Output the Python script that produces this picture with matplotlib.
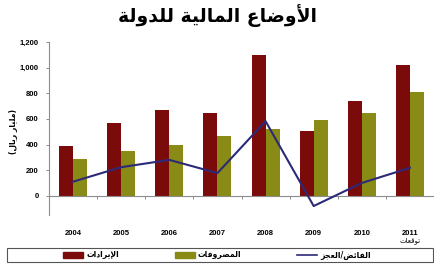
import matplotlib
matplotlib.use("Agg")
import matplotlib.pyplot as plt
from matplotlib.patches import Rectangle, Patch
from matplotlib.lines import Line2D
from matplotlib.ticker import FuncFormatter, FixedLocator

# ---------------- data ----------------
years = ["2004", "2005", "2006", "2007", "2008", "2009", "2010", "2011"]
revenues = [392, 566, 670, 644, 1100, 508, 742, 1022]
expenditures = [285, 348, 397, 467, 519, 592, 644, 807]
balance = [110, 223, 280, 177, 582, -80, 100, 218]
yticks = [0, 200, 400, 600, 800, 1000, 1200]

title_txt = "الأوضاع المالية للدولة"
ylabel_txt = "(مليار ريال)"
rev_txt = "الإيرادات"
exp_txt = "المصروفات"
bal_txt = "الفائض/العجز"
forecast_txt = "توقعات"

# ------------- simple Arabic shaping -------------
FORMS = {  # isolated, final, initial, medial
    'ا': (0xFE8D, 0xFE8E, None, None),
    'أ': (0xFE83, 0xFE84, None, None),
    'إ': (0xFE87, 0xFE88, None, None),
    'ة': (0xFE93, 0xFE94, None, None),
    'د': (0xFEA9, 0xFEAA, None, None),
    'ر': (0xFEAD, 0xFEAE, None, None),
    'ز': (0xFEAF, 0xFEB0, None, None),
    'و': (0xFEED, 0xFEEE, None, None),
    'ت': (0xFE95, 0xFE96, 0xFE97, 0xFE98),
    'ج': (0xFE9D, 0xFE9E, 0xFE9F, 0xFEA0),
    'ص': (0xFEB9, 0xFEBA, 0xFEBB, 0xFEBC),
    'ض': (0xFEBD, 0xFEBE, 0xFEBF, 0xFEC0),
    'ع': (0xFEC9, 0xFECA, 0xFECB, 0xFECC),
    'ف': (0xFED1, 0xFED2, 0xFED3, 0xFED4),
    'ق': (0xFED5, 0xFED6, 0xFED7, 0xFED8),
    'ل': (0xFEDD, 0xFEDE, 0xFEDF, 0xFEE0),
    'م': (0xFEE1, 0xFEE2, 0xFEE3, 0xFEE4),
    'ي': (0xFEF1, 0xFEF2, 0xFEF3, 0xFEF4),
    'ئ': (0xFE89, 0xFE8A, 0xFE8B, 0xFE8C),
}
LAMALEF = {'ا': (0xFEFB, 0xFEFC), 'أ': (0xFEF7, 0xFEF8), 'إ': (0xFEF9, 0xFEFA)}


def dual(c):
    return c in FORMS and FORMS[c][2] is not None


def shape(s):
    chars = list(s)
    out = []
    i = 0
    n = len(chars)
    while i < n:
        c = chars[i]
        prev = chars[i - 1] if i > 0 else None
        jp = prev is not None and dual(prev)
        if c == 'ل' and i + 1 < n and chars[i + 1] in LAMALEF:
            iso, fin = LAMALEF[chars[i + 1]]
            out.append(chr(fin if jp else iso))
            i += 2
            continue
        if c in FORMS:
            iso, fin, ini, med = FORMS[c]
            nxt = chars[i + 1] if i + 1 < n else None
            jn = dual(c) and nxt is not None and nxt in FORMS
            if jp and jn:
                out.append(chr(med))
            elif jp:
                out.append(chr(fin))
            elif jn:
                out.append(chr(ini))
            else:
                out.append(chr(iso))
        else:
            out.append(c)
        i += 1
    vis = ''.join(reversed(out))
    vis = vis.translate(str.maketrans({'(': ')', ')': '('}))
    return vis


# ---------------- figure ----------------
plt.rcParams['font.family'] = ['DejaVu Sans']
W, H = 435, 265
fig = plt.figure(figsize=(W / 100, H / 100), dpi=100)
ax = fig.add_axes([49 / W, 1 - 215 / H, 385 / W, 173 / H])

red = '#7b0a0a'
olive = '#8a8a16'
navy = '#2c2a78'
gray = '#8c8c8c'

x = list(range(len(years)))
bw = 0.29
ax.bar([i - bw / 2 for i in x], revenues, width=bw, color=red, zorder=2)
ax.bar([i + bw / 2 for i in x], expenditures, width=bw, color=olive, zorder=2)
ax.plot(x, balance, color=navy, lw=1.5, zorder=3)

ax.set_xlim(-0.5, len(years) - 0.5)
ax.set_ylim(-150, 1200)

for s in ['top', 'right']:
    ax.spines[s].set_visible(False)
ax.spines['left'].set_color(gray)
ax.spines['left'].set_linewidth(0.8)
ax.spines['bottom'].set_position(('data', 0))
ax.spines['bottom'].set_color(gray)
ax.spines['bottom'].set_linewidth(0.8)

ax.yaxis.set_major_locator(FixedLocator(yticks))
ax.yaxis.set_major_formatter(FuncFormatter(lambda v, p: f"{int(v):,}"))
ax.tick_params(axis='y', length=2.5, width=0.7, color=gray, pad=5,
               labelsize=5.5)
for lab in ax.get_yticklabels():
    lab.set_fontweight('bold')
    lab.set_fontfamily('Liberation Sans')

ax.set_xticks([i + 0.5 for i in x])
ax.set_xticklabels([])
ax.tick_params(axis='x', length=2.5, width=0.7, color=gray, direction='out')

for i, yr in enumerate(years):
    ax.text(i, -296, yr, ha='center', va='center', fontsize=5.5,
            fontweight='bold', family='Liberation Sans', clip_on=False)
ax.text(len(years) - 1, -352, shape(forecast_txt), ha='center', va='center',
        fontsize=5, clip_on=False)

fig.text(218 / W, 1 - 16 / H, shape(title_txt), ha='center', va='center',
         fontsize=13.5, fontweight='bold')
fig.text(14 / W, 1 - 132 / H, shape(ylabel_txt), ha='center', va='center',
         rotation=90, fontsize=5.5, fontweight='bold')

# legend frame
fig.patches.append(Rectangle((7 / W, 1 - 262 / H), 426 / W, 14 / H,
                             transform=fig.transFigure, fill=False,
                             edgecolor='#555555', lw=0.8))
handles = [Patch(color=red), Patch(color=olive), Line2D([], [], color=navy, lw=1.2)]
labels = [shape(rev_txt), shape(exp_txt), shape(bal_txt)]
leg = fig.legend(handles, labels, ncol=3, loc='center',
                 bbox_to_anchor=(217 / W, 1 - 255 / H), frameon=False,
                 prop={'size': 5.5, 'weight': 'bold'}, handlelength=2.6,
                 handleheight=0.9, handletextpad=0.4, columnspacing=7.3,
                 borderpad=0)

fig.savefig('out.png', dpi=100)
